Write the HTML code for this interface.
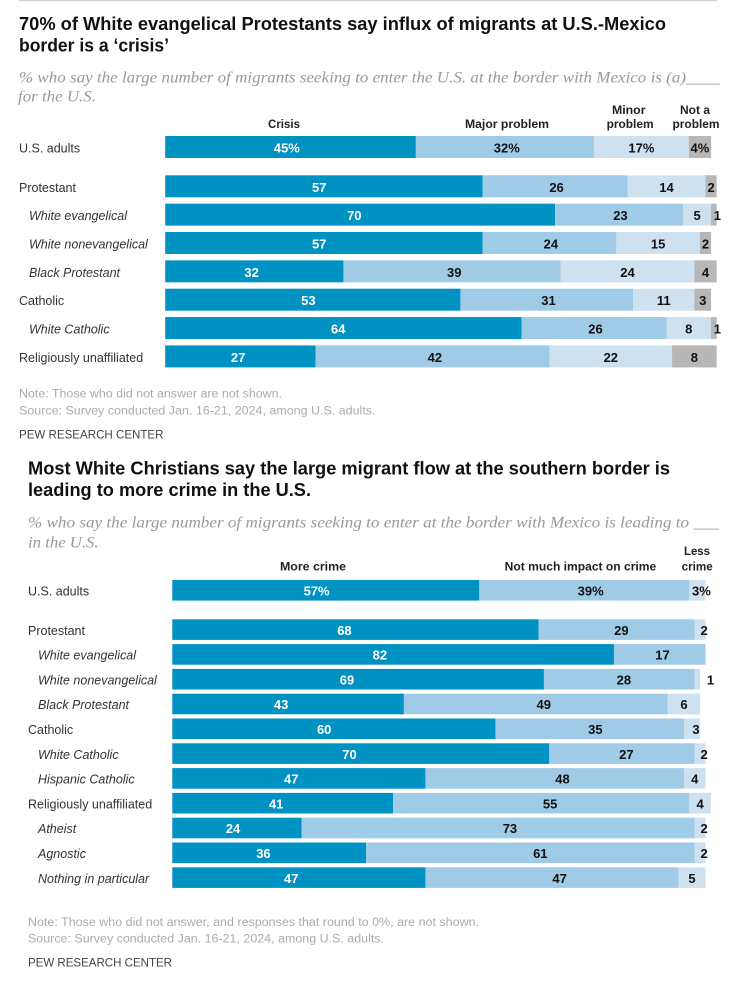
<!DOCTYPE html>
<html lang="en">
<head>
<meta charset="utf-8">
<title>Pew Research charts on migrants at the U.S.-Mexico border</title>
<style>
html,body{margin:0;padding:0;background:#fff;}
svg{display:block;filter:blur(0.35px);}
text{font-family:"Liberation Sans",sans-serif;}
.title{font-size:18px;font-weight:bold;fill:#111;}
.sub{font-family:"Liberation Serif",serif;font-style:italic;font-size:16px;fill:#999;}
.head{font-size:11.5px;font-weight:bold;fill:#222;}
.note{font-size:11.5px;fill:#ababab;}
.pew{font-size:12px;fill:#444;}
.cat{font-size:12.5px;fill:#333;}
.cat.it{font-style:italic;}
.val{font-size:13px;font-weight:bold;text-anchor:middle;}
</style>
</head>
<body>
<svg id="root" xmlns="http://www.w3.org/2000/svg" width="735" height="982" viewBox="0 0 735 982">
  <rect x="19" y="0" width="698" height="1.2" fill="#cfcfcf"/>

  <text class="title" x="19" y="30" textLength="647" lengthAdjust="spacingAndGlyphs">70% of White evangelical Protestants say influx of migrants at U.S.-Mexico</text>
  <text class="title" x="19" y="51.7" textLength="150" lengthAdjust="spacingAndGlyphs">border is a ‘crisis’</text>
  <text class="sub" x="19" y="82.7" textLength="701" lengthAdjust="spacingAndGlyphs">% who say the large number of migrants seeking to enter the U.S. at the border with Mexico is (a)____</text>
  <text class="sub" x="18" y="101.7" textLength="78" lengthAdjust="spacingAndGlyphs">for the U.S.</text>
  <text class="head" x="268" y="128" textLength="32" lengthAdjust="spacingAndGlyphs">Crisis</text>
  <text class="head" x="465" y="128" textLength="84" lengthAdjust="spacingAndGlyphs">Major problem</text>
  <text class="head" x="612" y="114" textLength="33.5" lengthAdjust="spacingAndGlyphs">Minor</text>
  <text class="head" x="606.6" y="128" textLength="47" lengthAdjust="spacingAndGlyphs">problem</text>
  <text class="head" x="680" y="114" textLength="30" lengthAdjust="spacingAndGlyphs">Not a</text>
  <text class="head" x="672.5" y="128" textLength="47" lengthAdjust="spacingAndGlyphs">problem</text>
  <g id="chart1"></g>
  <text class="note" x="19" y="397.7" textLength="263" lengthAdjust="spacingAndGlyphs">Note: Those who did not answer are not shown.</text>
  <text class="note" x="19" y="414.3" textLength="356.5" lengthAdjust="spacingAndGlyphs">Source: Survey conducted Jan. 16-21, 2024, among U.S. adults.</text>
  <text class="pew" x="19" y="438.3" textLength="144.5" lengthAdjust="spacingAndGlyphs">PEW RESEARCH CENTER</text>

  <text class="title" x="28" y="474.3" textLength="642" lengthAdjust="spacingAndGlyphs">Most White Christians say the large migrant flow at the southern border is</text>
  <text class="title" x="28" y="496" textLength="283" lengthAdjust="spacingAndGlyphs">leading to more crime in the U.S.</text>
  <text class="sub" x="28" y="527.7" textLength="691" lengthAdjust="spacingAndGlyphs">% who say the large number of migrants seeking to enter at the border with Mexico is leading to ___</text>
  <text class="sub" x="28" y="547.3" textLength="70.6" lengthAdjust="spacingAndGlyphs">in the U.S.</text>
  <text class="head" x="280" y="570.7" textLength="66" lengthAdjust="spacingAndGlyphs">More crime</text>
  <text class="head" x="504.7" y="570.7" textLength="151.5" lengthAdjust="spacingAndGlyphs">Not much impact on crime</text>
  <text class="head" x="684" y="555" textLength="26" lengthAdjust="spacingAndGlyphs">Less</text>
  <text class="head" x="681.7" y="570.7" textLength="31" lengthAdjust="spacingAndGlyphs">crime</text>
  <g id="chart2"></g>
  <text class="note" x="28" y="926" textLength="451" lengthAdjust="spacingAndGlyphs">Note: Those who did not answer, and responses that round to 0%, are not shown.</text>
  <text class="note" x="28" y="942.3" textLength="356" lengthAdjust="spacingAndGlyphs">Source: Survey conducted Jan. 16-21, 2024, among U.S. adults.</text>
  <text class="pew" x="28" y="966.7" textLength="144" lengthAdjust="spacingAndGlyphs">PEW RESEARCH CENTER</text>
</svg>
<script>
// Chart 1 data
const crisisCategories = ["U.S. adults","Protestant","White evangelical","White nonevangelical","Black Protestant","Catholic","White Catholic","Religiously unaffiliated"];
const crisisSubgroups = ["White evangelical","White nonevangelical","Black Protestant","White Catholic"];
const crisisSeries = ["crisis","major-problem","minor-problem","not-a-problem"];
const crisisValues = [45,57,70,57,32,53,64,27];
const majorValues = [32,26,23,24,39,31,26,42];
const minorValues = [17,14,5,15,24,11,8,22];
const notProblemValues = [4,2,1,2,4,3,1,8];

// Chart 2 data
const crimeCategories = ["U.S. adults","Protestant","White evangelical","White nonevangelical","Black Protestant","Catholic","White Catholic","Hispanic Catholic","Religiously unaffiliated","Atheist","Agnostic","Nothing in particular"];
const crimeSubgroups = ["White evangelical","White nonevangelical","Black Protestant","White Catholic","Hispanic Catholic","Atheist","Agnostic","Nothing in particular"];
const crimeSeries = ["more-crime","not-much-impact","less-crime"];
const moreCrimeValues = [57,68,82,69,43,60,70,47,41,24,36,47];
const noImpactValues = [39,29,17,28,49,35,27,48,55,73,61,47];
const lessCrimeValues = [3,2,0,1,6,3,2,4,4,2,2,5];

const SVG_NS = "http://www.w3.org/2000/svg";

function slug(s){ return s.toLowerCase().replace(/[^a-z0-9]+/g,"-"); }

function drawChart(cfg){
  const host = document.getElementById(cfg.host);
  const xScale = v => cfg.x0 + v * cfg.unit;
  const yRow = i => i === 0 ? cfg.top : cfg.top + cfg.gap + (i - 1) * cfg.pitch;
  cfg.categories.forEach((cat, i) => {
    const y = yRow(i);
    const sub = cfg.subgroups.includes(cat);
    const label = document.createElementNS(SVG_NS, "text");
    label.setAttribute("class", sub ? "cat it" : "cat");
    label.setAttribute("x", sub ? cfg.labelX + 10 : cfg.labelX);
    label.setAttribute("y", y + cfg.baseline);
    label.textContent = cat;
    
    
    host.appendChild(label);

    let cum = 0;
    cfg.series.forEach((values, s) => {
      const v = values[i];
      if (v > 0) {
        const rect = document.createElementNS(SVG_NS, "rect");
        rect.setAttribute("x", xScale(cum));
        rect.setAttribute("y", y);
        rect.setAttribute("width", xScale(cum + v) - xScale(cum));
        rect.setAttribute("height", cfg.barH);
        rect.setAttribute("fill", cfg.colors[s]);
        
        
        host.appendChild(rect);

        const t = document.createElementNS(SVG_NS, "text");
        t.setAttribute("class", "val");
        t.setAttribute("x", xScale(cum + v * cfg.labelAnchor[s]) + cfg.nudge(v, s));
        t.setAttribute("y", y + cfg.baseline);
        t.setAttribute("fill", s === 0 ? "#fff" : "#111");
        t.textContent = i === 0 ? v + "%" : String(v);
        
        
        host.appendChild(t);
      }
      cum += v;
    });
  });
}

drawChart({
  host: "chart1", categories: crisisCategories, subgroups: crisisSubgroups,
  series: [crisisValues, majorValues, minorValues, notProblemValues], seriesNames: crisisSeries,
  colors: ["#0192c4","#a0cbe6","#cde1f0","#b7b7b7"],
  labelAnchor: [0.485, 0.51, 0.5, 0.5],
  x0: 165.2, unit: 5.57, top: 136, gap: 39.3, pitch: 28.35, barH: 22, baseline: 16.5, labelX: 19,
  nudge: (v, s) => (s === 3 && v === 1) ? 3.5 : 0
});
drawChart({
  host: "chart2", categories: crimeCategories, subgroups: crimeSubgroups,
  series: [moreCrimeValues, noImpactValues, lessCrimeValues], seriesNames: crimeSeries,
  colors: ["#0192c4","#a0cbe6","#cde1f0"],
  labelAnchor: [0.47, 0.53, 0.5],
  x0: 172.3, unit: 5.386, top: 580, gap: 39.3, pitch: 24.8, barH: 20.6, baseline: 15.5, labelX: 28,
  nudge: (v, s) => s !== 2 ? 0 : v === 1 ? 13 : v <= 3 ? 4 : 0
});
</script>
</body>
</html>
